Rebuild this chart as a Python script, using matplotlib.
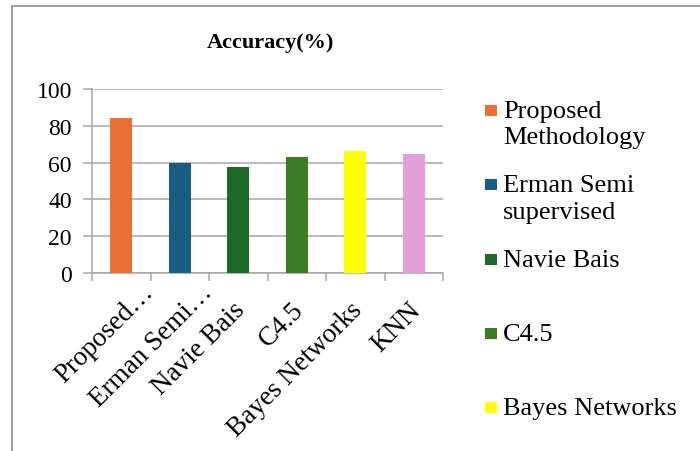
import matplotlib.pyplot as plt
from matplotlib.patches import Rectangle
import numpy as np

plt.rcParams['font.family'] = 'serif'
plt.rcParams['font.serif'] = ['Liberation Serif', 'DejaVu Serif']

methods = ["Proposed Methodology", "Erman Semi supervised", "Navie Bais",
           "C4.5", "Bayes Networks", "KNN"]
tick_labels = ["Proposed…", "Erman Semi…", "Navie Bais", "C4.5",
               "Bayes Networks", "KNN"]
legend_labels = ["Proposed\nMethodology", "Erman Semi\nsupervised", "Navie Bais",
                 "C4.5", "Bayes Networks", "KNN"]
accuracy = [84, 60, 57.5, 63, 66.5, 64.5]
colors = ["#EA7133", "#175E82", "#1D6A27", "#3B7D23", "#FFFF00", "#E39FDC"]

W, H = 700, 452
fig = plt.figure(figsize=(W / 100, H / 100), dpi=100)

# outer frame of the chart object
fig.patches.append(Rectangle((12 / W, -0.1), 1.2, 1 - 7 / H + 0.1,
                             transform=fig.transFigure, fill=False,
                             edgecolor="#8c8c8c", linewidth=1.2))

ax = fig.add_axes([92 / W, 1 - 274 / H, (443 - 92) / W, (274 - 90) / H])
x = np.arange(len(methods))
ax.bar(x, accuracy, width=0.38, color=colors, zorder=3)

ax.set_xlim(-0.5, len(methods) - 0.5)
ax.set_ylim(0, 100)
ax.set_yticks(np.arange(0, 101, 20))
ax.yaxis.grid(True, color="#a6a6a6", linewidth=1.1, zorder=0)
for s in ["top", "right"]:
    ax.spines[s].set_visible(False)
for s in ["left", "bottom"]:
    ax.spines[s].set_color("#a6a6a6")
    ax.spines[s].set_linewidth(1.1)

ax.tick_params(axis="y", length=6.5, width=1.1, color="#a6a6a6",
               labelsize=17, pad=8)
ax.set_xticks([])
ax.set_xticks(np.arange(-0.5, len(methods)), minor=True)
ax.tick_params(axis="x", which="minor", length=6, width=1.1, color="#a6a6a6",
               labelbottom=False)

# rotated category labels; the shortened ones sit closer to the axis
for i, lab in enumerate(tick_labels):
    dx, dy = (20, -6) if lab.endswith("…") else (-6, -24)
    ax.annotate(lab, xy=(i, 0), xycoords="data", xytext=(dx, dy),
                textcoords="offset pixels", rotation=45, ha="right", va="top",
                rotation_mode="anchor", fontsize=19.5, annotation_clip=False)

fig.text(270 / W, 1 - 43 / H, "Accuracy(%)", ha="center", va="center",
         fontsize=16, fontweight="bold")

# legend entries, one slot per method; slots past the bottom edge are dropped
for i, (lab, c) in enumerate(zip(legend_labels, colors)):
    ytop = 101 + i * 74.3
    if ytop + 25 > H:
        break
    fig.patches.append(Rectangle((485 / W, 1 - (ytop + 16) / H), 12 / W, 11 / H,
                                 transform=fig.transFigure, facecolor=c,
                                 edgecolor="none"))
    fig.text(503 / W, 1 - ytop / H, lab, ha="left", va="top", fontsize=19,
             linespacing=1.25)

fig.savefig("out.png", dpi=100)
